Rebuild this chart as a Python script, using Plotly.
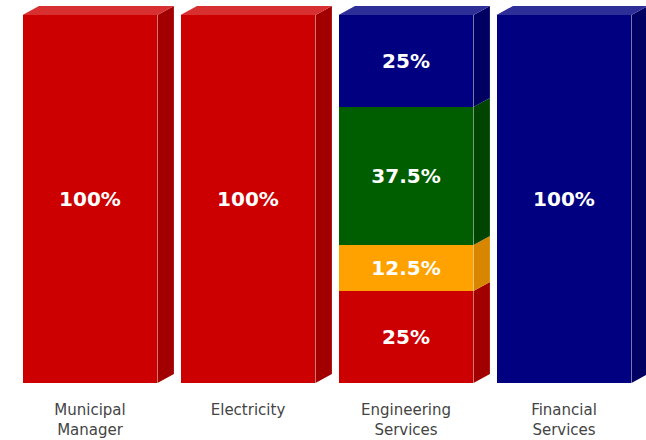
import plotly.graph_objects as go

categories = ["Municipal<br>Manager", "Electricity", "Engineering<br>Services", "Financial<br>Services"]
series_names = ["Red", "Orange", "Green", "Blue"]
red_vals = [100, 100, 25, 0]
orange_vals = [0, 0, 12.5, 0]
green_vals = [0, 0, 37.5, 0]
blue_vals = [0, 0, 25, 100]

front_colors = ["#CC0000", "#FFA200", "#005E00", "#000080"]
side_colors = ["#A20000", "#D88600", "#004400", "#000062"]
top_colors = ["#D83030", "#FFB830", "#2A7A2A", "#2E2E98"]

series = [red_vals, orange_vals, green_vals, blue_vals]
xpos = list(range(len(categories)))
bar_w = 0.854
dx = 0.104   # depth offset in x data units
dy = 2.45    # depth offset in y data units

fig = go.Figure()

for name, vals, col in zip(series_names, series, front_colors):
    fig.add_trace(go.Bar(
        x=xpos, y=vals, name=name, width=bar_w,
        marker=dict(color=col, line=dict(width=0)),
        text=[(f"{v:g}%" if v > 0 else "") for v in vals],
        textposition="inside", insidetextanchor="middle", textangle=0,
        textfont=dict(family="DejaVu Sans", size=20, color="white", weight="bold"),
        hoverinfo="skip", showlegend=False,
    ))

# 3D side and top faces computed from the stacked data
totals = [sum(s[i] for s in series) for i in xpos]
for k, (vals, scol) in enumerate(zip(series, side_colors)):
    sx, sy = [], []
    for i in xpos:
        v = vals[i]
        if v <= 0:
            continue
        base = sum(series[j][i] for j in range(k))
        xr = i + bar_w / 2
        sx += [xr, xr + dx, xr + dx, xr, xr, None]
        sy += [base, base + dy, base + v + dy, base + v, base, None]
    if sx:
        fig.add_trace(go.Scatter(x=sx, y=sy, mode="lines", fill="toself",
                                 fillcolor=scol, line=dict(width=0, color=scol),
                                 hoverinfo="skip", showlegend=False))

for k, (vals, tcol) in enumerate(zip(series, top_colors)):
    tx, ty = [], []
    for i in xpos:
        # top face belongs to the topmost non-zero segment
        top_k = max(j for j in range(len(series)) if series[j][i] > 0)
        if top_k != k:
            continue
        t = totals[i]
        xl, xr = i - bar_w / 2, i + bar_w / 2
        tx += [xl, xl + dx, xr + dx, xr, xl, None]
        ty += [t, t + dy, t + dy, t, t, None]
    if tx:
        fig.add_trace(go.Scatter(x=tx, y=ty, mode="lines", fill="toself",
                                 fillcolor=tcol, line=dict(width=0, color=tcol),
                                 hoverinfo="skip", showlegend=False))

fig.update_layout(
    width=646, height=440,
    margin=dict(l=0, r=0, t=0, b=57),
    barmode="stack", bargap=0,
    plot_bgcolor="white", paper_bgcolor="white",
    showlegend=False,
    xaxis=dict(
        range=[-90 / 158, 556 / 158],
        tickmode="array", tickvals=xpos, ticktext=categories,
        ticks="outside", ticklen=13, tickcolor="rgba(0,0,0,0)",
        showgrid=False, zeroline=False, showline=False,
        tickfont=dict(family="DejaVu Sans", size=15, color="#444444"),
    ),
    yaxis=dict(
        range=[0, 383 / 3.68], visible=False,
        showgrid=False, zeroline=False,
    ),
)

fig.write_html("out.html")
